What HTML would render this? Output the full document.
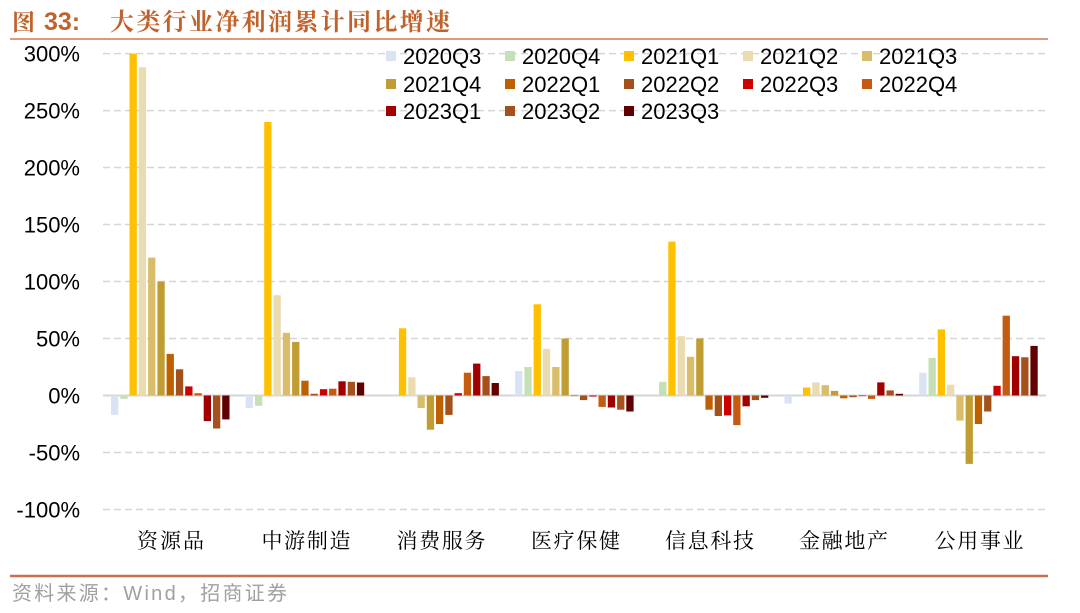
<!DOCTYPE html>
<html><head><meta charset="utf-8">
<style>
html,body{margin:0;padding:0;background:#fff;}
svg{display:block;}
.ax{font-family:"Liberation Sans",Arial,sans-serif;font-size:22px;fill:#000;}
.cat{font-family:"Liberation Serif","Noto Serif CJK SC",serif;font-size:21px;fill:#000;}
</style></head>
<body>
<svg width="1080" height="613" viewBox="0 0 1080 613" xmlns="http://www.w3.org/2000/svg">
<rect width="1080" height="613" fill="#fff"/>
<!-- title -->
<text x="12" y="30" font-family="'Liberation Serif','Noto Serif CJK SC',serif" font-size="23" font-weight="bold" fill="#C0622B">图</text>
<text x="44" y="30" font-family="'Liberation Sans',Arial,sans-serif" font-size="25" font-weight="bold" fill="#C0622B">33:</text>
<text x="110" y="30" font-family="'Liberation Serif','Noto Serif CJK SC',serif" font-size="24" font-weight="bold" fill="#C0622B" textLength="340" lengthAdjust="spacing">大类行业净利润累计同比增速</text>
<line x1="10" y1="39" x2="1048" y2="39" stroke="#DB9A7C" stroke-width="2"/>

<!-- gridlines -->
<g stroke="#D6D6D6" stroke-width="1.5" stroke-dasharray="7 4">
<line x1="103" y1="53.6" x2="1046" y2="53.6"/>
<line x1="103" y1="110.6" x2="1046" y2="110.6"/>
<line x1="103" y1="167.5" x2="1046" y2="167.5"/>
<line x1="103" y1="224.5" x2="1046" y2="224.5"/>
<line x1="103" y1="281.5" x2="1046" y2="281.5"/>
<line x1="103" y1="338.5" x2="1046" y2="338.5"/>
<line x1="103" y1="452.5" x2="1046" y2="452.5"/>
<line x1="103" y1="509.5" x2="1046" y2="509.5"/>
</g>
<line x1="103" y1="395.5" x2="1046" y2="395.5" stroke="#D6D6D6" stroke-width="2"/>

<!-- y labels -->
<g class="ax" text-anchor="end">
<text x="80" y="61.6">300%</text>
<text x="80" y="118.6">250%</text>
<text x="80" y="175.5">200%</text>
<text x="80" y="232.5">150%</text>
<text x="80" y="289.5">100%</text>
<text x="80" y="346.5">50%</text>
<text x="80" y="403.5">0%</text>
<text x="80" y="460.5">-50%</text>
<text x="80" y="517.5">-100%</text>
</g>

<!-- bars -->
<g>
<!-- G1 资源品 -->
<rect x="111" y="395.5" width="7.3" height="19.4" fill="#DAE3F3"/>
<rect x="120.3" y="395.5" width="7.3" height="3.4" fill="#C5E0B4"/>
<rect x="129.5" y="53.6" width="7.3" height="341.9" fill="#FFC000"/>
<rect x="138.8" y="67.3" width="7.3" height="328.2" fill="#EADCB0"/>
<rect x="148.1" y="257.6" width="7.3" height="137.9" fill="#D9BD6B"/>
<rect x="157.4" y="281.5" width="7.3" height="114" fill="#C09D33"/>
<rect x="166.6" y="353.9" width="7.3" height="41.6" fill="#BF6000"/>
<rect x="175.9" y="369.3" width="7.3" height="26.2" fill="#A3501B"/>
<rect x="185.2" y="386.4" width="7.3" height="9.1" fill="#CC0000"/>
<rect x="194.4" y="393.2" width="7.3" height="2.3" fill="#C55A11"/>
<rect x="203.7" y="395.5" width="7.3" height="25.6" fill="#A00000"/>
<rect x="213.0" y="395.5" width="7.3" height="33" fill="#A5511C"/>
<rect x="222.2" y="395.5" width="7.3" height="23.9" fill="#610000"/>
<!-- G2 中游制造 -->
<rect x="245.7" y="395.5" width="7.3" height="12.5" fill="#DAE3F3"/>
<rect x="255.0" y="395.5" width="7.3" height="10.3" fill="#C5E0B4"/>
<rect x="264.2" y="122" width="7.3" height="273.5" fill="#FFC000"/>
<rect x="273.5" y="295.2" width="7.3" height="100.3" fill="#EADCB0"/>
<rect x="282.8" y="332.8" width="7.3" height="62.7" fill="#D9BD6B"/>
<rect x="292.1" y="341.9" width="7.3" height="53.6" fill="#C09D33"/>
<rect x="301.3" y="380.7" width="7.3" height="14.8" fill="#BF6000"/>
<rect x="310.6" y="393.8" width="7.3" height="1.7" fill="#A3501B"/>
<rect x="319.9" y="389.2" width="7.3" height="6.3" fill="#CC0000"/>
<rect x="329.1" y="388.7" width="7.3" height="6.8" fill="#C55A11"/>
<rect x="338.4" y="381.3" width="7.3" height="14.2" fill="#A00000"/>
<rect x="347.7" y="381.8" width="7.3" height="13.7" fill="#A5511C"/>
<rect x="356.9" y="382.5" width="7.3" height="13" fill="#610000"/>
<!-- G3 消费服务 -->
<rect x="389.7" y="395.5" width="7.3" height="0.6" fill="#C5E0B4"/>
<rect x="398.9" y="328.3" width="7.3" height="67.2" fill="#FFC000"/>
<rect x="408.2" y="377.3" width="7.3" height="18.2" fill="#EADCB0"/>
<rect x="417.5" y="395.5" width="7.3" height="12.5" fill="#D9BD6B"/>
<rect x="426.8" y="395.5" width="7.3" height="34.2" fill="#C09D33"/>
<rect x="436.0" y="395.5" width="7.3" height="28.5" fill="#BF6000"/>
<rect x="445.3" y="395.5" width="7.3" height="19.4" fill="#A3501B"/>
<rect x="454.6" y="393.2" width="7.3" height="2.3" fill="#CC0000"/>
<rect x="463.8" y="372.7" width="7.3" height="22.8" fill="#C55A11"/>
<rect x="473.1" y="363.6" width="7.3" height="31.9" fill="#A00000"/>
<rect x="482.4" y="376.1" width="7.3" height="19.4" fill="#A5511C"/>
<rect x="491.6" y="383" width="7.3" height="12.5" fill="#610000"/>
<!-- G4 医疗保健 -->
<rect x="515.1" y="371" width="7.3" height="24.5" fill="#DAE3F3"/>
<rect x="524.4" y="367" width="7.3" height="28.5" fill="#C5E0B4"/>
<rect x="533.6" y="304.3" width="7.3" height="91.2" fill="#FFC000"/>
<rect x="542.9" y="348.8" width="7.3" height="46.7" fill="#EADCB0"/>
<rect x="552.2" y="367" width="7.3" height="28.5" fill="#D9BD6B"/>
<rect x="561.5" y="338.5" width="7.3" height="57" fill="#C09D33"/>
<rect x="570.7" y="395.5" width="7.3" height="0.6" fill="#BF6000"/>
<rect x="580.0" y="395.5" width="7.3" height="4.6" fill="#A3501B"/>
<rect x="589.3" y="395.5" width="7.3" height="1.1" fill="#CC0000"/>
<rect x="598.5" y="395.5" width="7.3" height="11.4" fill="#C55A11"/>
<rect x="607.8" y="395.5" width="7.3" height="12" fill="#A00000"/>
<rect x="617.1" y="395.5" width="7.3" height="14.2" fill="#A5511C"/>
<rect x="626.3" y="395.5" width="7.3" height="16" fill="#610000"/>
<!-- G5 信息科技 -->
<rect x="659.1" y="381.8" width="7.3" height="13.7" fill="#C5E0B4"/>
<rect x="668.3" y="241.7" width="7.3" height="153.8" fill="#FFC000"/>
<rect x="677.6" y="336.2" width="7.3" height="59.3" fill="#EADCB0"/>
<rect x="686.9" y="356.8" width="7.3" height="38.7" fill="#D9BD6B"/>
<rect x="696.2" y="338.5" width="7.3" height="57" fill="#C09D33"/>
<rect x="705.4" y="395.5" width="7.3" height="14.2" fill="#BF6000"/>
<rect x="714.7" y="395.5" width="7.3" height="20.5" fill="#A3501B"/>
<rect x="724.0" y="395.5" width="7.3" height="19.9" fill="#CC0000"/>
<rect x="733.2" y="395.5" width="7.3" height="29.6" fill="#C55A11"/>
<rect x="742.5" y="395.5" width="7.3" height="10.8" fill="#A00000"/>
<rect x="751.8" y="395.5" width="7.3" height="4.6" fill="#A5511C"/>
<rect x="761.0" y="395.5" width="7.3" height="2.3" fill="#610000"/>
<!-- G6 金融地产 -->
<rect x="784.5" y="395.5" width="7.3" height="8" fill="#DAE3F3"/>
<rect x="803.0" y="387.5" width="7.3" height="8" fill="#FFC000"/>
<rect x="812.3" y="382.4" width="7.3" height="13.1" fill="#EADCB0"/>
<rect x="821.6" y="385.2" width="7.3" height="10.3" fill="#D9BD6B"/>
<rect x="830.9" y="390.9" width="7.3" height="4.6" fill="#C09D33"/>
<rect x="840.1" y="395.5" width="7.3" height="2.8" fill="#BF6000"/>
<rect x="849.4" y="395.5" width="7.3" height="1.7" fill="#A3501B"/>
<rect x="858.7" y="395.5" width="7.3" height="0.6" fill="#CC0000"/>
<rect x="867.9" y="395.5" width="7.3" height="3.4" fill="#C55A11"/>
<rect x="877.2" y="382.4" width="7.3" height="13.1" fill="#A00000"/>
<rect x="886.5" y="390.4" width="7.3" height="5.1" fill="#A5511C"/>
<rect x="895.7" y="393.8" width="7.3" height="1.7" fill="#610000"/>
<!-- G7 公用事业 -->
<rect x="919.2" y="372.7" width="7.3" height="22.8" fill="#DAE3F3"/>
<rect x="928.5" y="357.9" width="7.3" height="37.6" fill="#C5E0B4"/>
<rect x="937.7" y="329.4" width="7.3" height="66.1" fill="#FFC000"/>
<rect x="947.0" y="384.7" width="7.3" height="10.8" fill="#EADCB0"/>
<rect x="956.3" y="395.5" width="7.3" height="25.1" fill="#D9BD6B"/>
<rect x="965.6" y="395.5" width="7.3" height="68.4" fill="#C09D33"/>
<rect x="974.8" y="395.5" width="7.3" height="28.5" fill="#BF6000"/>
<rect x="984.1" y="395.5" width="7.3" height="16" fill="#A3501B"/>
<rect x="993.4" y="385.8" width="7.3" height="9.7" fill="#CC0000"/>
<rect x="1002.6" y="315.7" width="7.3" height="79.8" fill="#C55A11"/>
<rect x="1011.9" y="356.2" width="7.3" height="39.3" fill="#A00000"/>
<rect x="1021.2" y="357.3" width="7.3" height="38.2" fill="#A5511C"/>
<rect x="1030.4" y="345.9" width="7.3" height="49.6" fill="#610000"/>
</g>

<!-- legend -->
<g class="ax">
<rect x="386" y="51" width="10" height="10" fill="#DAE3F3"/><text x="403" y="64">2020Q3</text>
<rect x="505" y="51" width="10" height="10" fill="#C5E0B4"/><text x="522" y="64">2020Q4</text>
<rect x="624" y="51" width="10" height="10" fill="#FFC000"/><text x="641" y="64">2021Q1</text>
<rect x="743" y="51" width="10" height="10" fill="#EADCB0"/><text x="760" y="64">2021Q2</text>
<rect x="862" y="51" width="10" height="10" fill="#D9BD6B"/><text x="879" y="64">2021Q3</text>

<rect x="386" y="79" width="10" height="10" fill="#C09D33"/><text x="403" y="92">2021Q4</text>
<rect x="505" y="79" width="10" height="10" fill="#BF6000"/><text x="522" y="92">2022Q1</text>
<rect x="624" y="79" width="10" height="10" fill="#A3501B"/><text x="641" y="92">2022Q2</text>
<rect x="743" y="79" width="10" height="10" fill="#CC0000"/><text x="760" y="92">2022Q3</text>
<rect x="862" y="79" width="10" height="10" fill="#C55A11"/><text x="879" y="92">2022Q4</text>

<rect x="386" y="106" width="10" height="10" fill="#A00000"/><text x="403" y="119">2023Q1</text>
<rect x="505" y="106" width="10" height="10" fill="#A5511C"/><text x="522" y="119">2023Q2</text>
<rect x="624" y="106" width="10" height="10" fill="#610000"/><text x="641" y="119">2023Q3</text>
</g>

<!-- category labels -->
<g class="cat" text-anchor="middle">
<text x="170.5" y="548" textLength="67" lengthAdjust="spacing">资源品</text>
<text x="306" y="548" textLength="89" lengthAdjust="spacing">中游制造</text>
<text x="441" y="548" textLength="89" lengthAdjust="spacing">消费服务</text>
<text x="575.5" y="548" textLength="89" lengthAdjust="spacing">医疗保健</text>
<text x="709.5" y="548" textLength="89" lengthAdjust="spacing">信息科技</text>
<text x="843.5" y="548" textLength="89" lengthAdjust="spacing">金融地产</text>
<text x="979" y="548" textLength="89" lengthAdjust="spacing">公用事业</text>
</g>

<!-- bottom rule and source -->
<line x1="10" y1="576" x2="1048" y2="576" stroke="#C8714F" stroke-width="2.5"/>
<text x="12" y="600" font-family="'Liberation Sans','Noto Sans CJK SC',sans-serif" font-size="20" fill="#A0A0A0" textLength="275" lengthAdjust="spacing">资料来源：Wind，招商证券</text>
</svg>
</body></html>
